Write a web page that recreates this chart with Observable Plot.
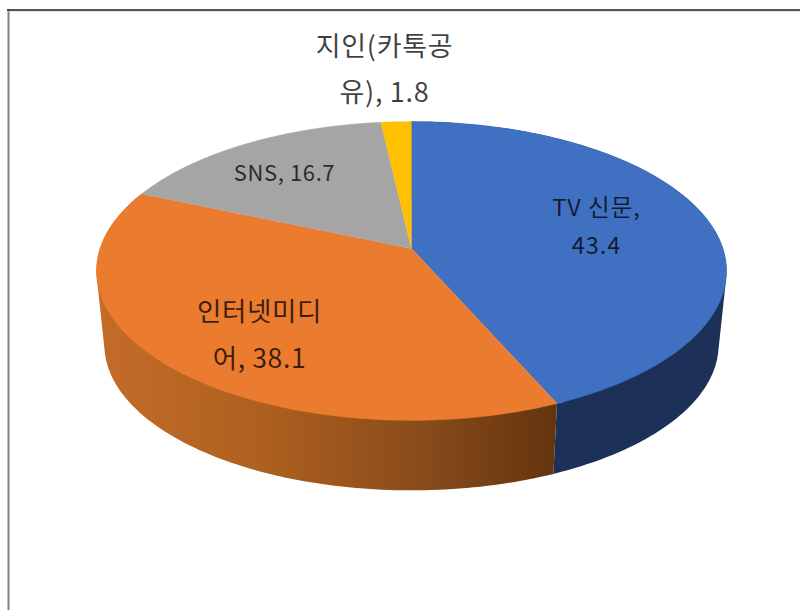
<!DOCTYPE html>
<html>
<head>
<meta charset="utf-8">
<script src="https://cdn.jsdelivr.net/npm/d3@7"></script>
<script src="https://cdn.jsdelivr.net/npm/@observablehq/plot@0.6"></script>
<style>html,body{margin:0;padding:0;background:#fff}svg{display:block}</style>
</head>
<body>
<div id="chart"></div>
<script>
const categories = ["TV 신문", "인터넷미디어", "SNS", "지인(카톡공유)"];
const values = [43.4, 38.1, 16.7, 1.8];
const topColors = ["#4070C2", "#EB7B2E", "#A5A5A5", "#FFC000"];
const labelLines = ["TV 신문,\n43.4", "인터넷미디\n어, 38.1", "SNS, 16.7", "지인(카톡공\n유), 1.8"];

// Tilted, perspective view of the pie disc
const view = {cx: 411, cy: 248, A: 146, B: 311.4, c: 0.1505, depthScale: 0.975, bottomCy: 322.3};
function project(angle, level) {
  const X = Math.sin(angle), Y = -Math.cos(angle), w = 1 - view.c * Y;
  const s = level ? view.depthScale : 1, cy = level ? view.bottomCy : view.cy;
  return {x: view.cx + s * view.B * X / w, y: cy + s * view.A * Y / w};
}
const total = d3.sum(values);
let acc = 0;
const slices = categories.map((name, i) => {
  const a0 = acc / total * 2 * Math.PI; acc += values[i];
  return {name, i, a0, a1: acc / total * 2 * Math.PI};
});
const arc = (s, level) => d3.range(0, 121).map(k => project(s.a0 + (s.a1 - s.a0) * k / 120, level));
const apex = {x: view.cx, y: view.cy};
const faces = slices.flatMap(s => [apex, ...arc(s, 0)].map(p => ({...p, name: s.name, color: topColors[s.i]})));
// Outer wall of a slice: one path through same-winding quads, so the silhouette
// between the two rims is filled and no seams show
const wall = s => {
  const top = arc(s, 0), bot = arc(s, 1);
  return d3.range(0, 120).flatMap(k => {
    const q = [top[k], top[k + 1], bot[k + 1], bot[k]];
    const area = d3.polygonArea(q.map(p => [p.x, p.y]));
    if (area < 0) q.reverse();
    return [...q, q[0]];
  });
};

const gradient = () => {
  const defs = d3.create("svg:defs");
  const g = defs.append("linearGradient").attr("id", "orangeWall")
    .attr("gradientUnits", "userSpaceOnUse").attr("x1", 96).attr("x2", 555).attr("y1", 0).attr("y2", 0);
  g.append("stop").attr("offset", "0%").attr("stop-color", "#C46C28");
  g.append("stop").attr("offset", "35%").attr("stop-color", "#AF601F");
  g.append("stop").attr("offset", "70%").attr("stop-color", "#8A4C1B");
  g.append("stop").attr("offset", "100%").attr("stop-color", "#64340F");
  return defs.node();
};

const labelSpots = [
  {x: 596, y: 222, size: 23.5, lh: 1.65, sp: 1},
  {x: 259, y: 329, size: 26.5, lh: 1.77, sp: 0.6},
  {x: 284, y: 173, size: 22, lh: 1, sp: 0.6},
  {x: 384, y: 64, size: 27, lh: 1.7, sp: 0.7}
];
const labels = labelLines.map((text, i) => ({text, ...labelSpots[i]}));
const spaced = sp => (index, scales, values, dims, ctx, next) => {
  const g = next(index, scales, values, dims, ctx);
  g.style.letterSpacing = sp + "px";
  return g;
};

const chart = Plot.plot({
  width: 800, height: 610,
  margin: 0,
  x: {domain: [0, 800], range: [0, 800], axis: null},
  y: {domain: [0, 610], range: [0, 610], axis: null},
  marks: [
    gradient,
    Plot.ruleX([8], {y1: 9, y2: 610, stroke: "#808080", strokeWidth: 2}),
    Plot.ruleY([10.5], {x1: 8, x2: 800, stroke: "#cccccc", strokeWidth: 1}),
    Plot.ruleY([9.5], {x1: 7, x2: 800, stroke: "#222222", strokeWidth: 1.5}),
    Plot.line(wall(slices[0]), {x: "x", y: "y", fill: "#1C3058", stroke: null, curve: "linear"}),
    Plot.line(wall(slices[1]), {x: "x", y: "y", fill: "url(#orangeWall)", stroke: null, curve: "linear"}),
    Plot.line(faces, {x: "x", y: "y", z: "name", fill: "color", stroke: "color", strokeWidth: 0.5, curve: "linear"}),
    ...labels.map(l => Plot.text([l], {
      x: "x", y: "y", text: "text", fontSize: l.size, lineHeight: l.lh,
      fontFamily: "'Noto Sans CJK KR'", fill: "#000", fillOpacity: 0.75, render: spaced(l.sp)
    }))
  ]
});
document.getElementById("chart").append(chart);
</script>
</body>
</html>
